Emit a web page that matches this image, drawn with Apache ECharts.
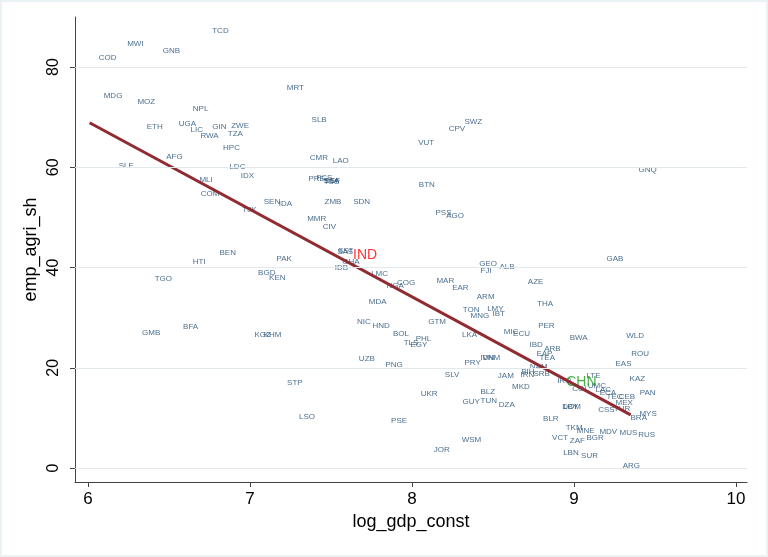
<!DOCTYPE html>
<html>
<head>
<meta charset="utf-8">
<script src="https://cdn.jsdelivr.net/npm/echarts@6/dist/echarts.min.js"></script>
<style>
  html, body { margin: 0; padding: 0; background: #fff; }
  #chart { width: 768px; height: 557px; box-sizing: border-box; border: 2px solid #eaf2f3; }
</style>
</head>
<body>
<div id="chart"></div>
<script>
// country codes with log gdp and agricultural employment share
var codes = ['TCD','MWI','GNB','COD','MDG','MOZ','NPL','MRT','ETH','UGA','LIC','GIN','ZWE','RWA','TZA','HPC','SLB','AFG','CMR','SLE',
  'LDC','IDX','LAO','SWZ','CPV','VUT','PRE','FCS','SSA','SSF','TSS','BTN','SEN','IDA','ZMB','SDN','PSS','AGO','MMR','CIV',
  'MLI','COM','TJK','BEN','PAK','HTI','BGD','KEN','TGO','SAS','SST','GHA','IDB','IND','LMC','NGA','COG','MAR','EAR','GEO',
  'FJI','ALB','ARM','AZE','MDA','TON','LMY','MNG','IBT','NIC','HND','GTM','BOL','PHL','TLS','EGY','LKA','MIC','ECU','IBD',
  'UZB','PNG','PRY','IDN','VNM','SLV','JAM','BIH','IRN','SRB','NAM','EAP','TEA','ARB','PER','THA','BWA','WLD','ROU','EAS',
  'KAZ','PAN','MYS','BRA','RUS','MUS','MDV','MNE','TKM','BGR','VCT','ZAF','LBN','SUR','ARG','BLR','DZA','MKD','DOM','LBY',
  'CSS','TUR','MEX','ECA','TEC','LAC','CEB','UMC','LTE','IRQ','COL','CHN','GUY','TUN','BLZ','UKR','PSE','WSM','JOR','STP',
  'LSO','GMB','BFA','KGZ','KHM','GNQ','GAB'];
var logGdp = [6.764,6.239,6.459,6.064,6.094,6.302,6.644,7.224,6.36,6.557,6.63,6.764,6.881,6.691,6.86,6.831,7.377,6.48,7.366,6.187,
  6.87,6.94,7.508,8.321,8.224,8.035,7.358,7.407,7.45,7.457,7.452,8.039,7.082,7.175,7.457,7.634,8.142,8.208,7.35,7.446,
  6.685,6.693,6.95,6.809,7.16,6.644,7.047,7.115,6.409,7.535,7.54,7.566,7.52,7.633,7.745,7.84,7.905,8.148,8.245,8.412,
  8.42,8.537,8.397,8.712,7.73,8.311,8.461,8.358,8.494,7.658,7.753,8.097,7.88,8.02,7.946,7.988,8.306,8.564,8.621,8.722,
  7.669,7.833,8.321,8.42,8.432,8.2,8.527,8.671,8.667,8.747,8.724,8.765,8.784,8.813,8.776,8.769,8.971,9.319,9.35,9.253,
  9.34,9.403,9.401,9.346,9.393,9.278,9.154,9.014,8.946,9.074,8.862,8.971,8.93,9.041,9.298,8.806,8.533,8.615,8.924,8.93,
  9.146,9.243,9.253,9.156,9.198,9.13,9.273,9.082,9.074,8.893,8.986,8.949,8.309,8.42,8.42,8.051,7.868,8.304,8.132,7.226,
  7.3,6.331,6.584,7.025,7.082,9.395,9.198];
var empAgri = [87.2,84.6,83.3,81.8,74.3,73.1,71.6,75.8,68.1,68.7,67.5,68.1,68.2,66.2,66.6,63.9,69.5,62.1,61.9,60.4,
  60.1,58.3,61.3,69.0,67.6,64.8,57.7,58.0,57.3,57.3,57.2,56.5,53.2,52.7,53.2,53.2,50.9,50.4,49.7,48.2,
  57.5,54.7,51.5,43.0,41.8,41.2,38.9,37.9,37.7,43.2,43.4,41.2,39.9,42.5,38.7,36.3,37.0,37.4,36.0,40.7,
  39.4,40.2,34.1,37.2,33.1,31.5,31.7,30.3,30.7,29.1,28.3,29.1,26.8,25.8,24.9,24.6,26.5,27.1,26.7,24.6,
  21.8,20.5,21.0,21.9,21.9,18.6,18.4,19.2,18.6,18.8,20.2,22.7,21.9,23.8,28.4,32.7,25.9,26.3,22.8,20.7,
  17.8,15.0,10.8,10.1,6.6,7.1,7.2,7.4,8.1,6.1,6.1,5.4,3.0,2.5,0.5,9.8,12.6,16.1,12.2,12.2,
  11.6,11.8,13.0,15.0,14.2,15.7,14.2,16.4,18.4,17.4,15.8,17.2,13.2,13.4,15.2,14.8,9.4,5.6,3.6,16.9,
  10.2,27.0,28.1,26.5,26.5,59.5,41.7];

// linear fit end points
var fitX = [6.01, 9.35];
var fitY = [68.9, 10.6];

var xTicks = [6, 7, 8, 9, 10];
var yTicks = [0, 20, 40, 60, 80];

var highlight = { IND: '#ff0000', CHN: '#1a9a1a' };

var pts = [];
for (var i = 0; i < codes.length; i++) {
    var item = { value: [logGdp[i], empAgri[i]], name: codes[i] };
    if (highlight[codes[i]]) {
        item.label = { color: highlight[codes[i]], fontSize: 14 };
    }
    pts.push(item);
}

var myChart = echarts.init(document.getElementById('chart'));
var option = {
    animation: false,
    textStyle: { fontFamily: 'Liberation Sans' },
    grid: { left: 73, right: 19, top: 15, bottom: 73 },
    xAxis: {
        type: 'value',
        min: 5.92, max: 10.068,
        name: 'log_gdp_const',
        nameLocation: 'middle',
        nameGap: 31,
        nameMoveOverlap: false,
        nameTextStyle: { fontSize: 18, color: '#000' },
        axisLine: { onZero: false, lineStyle: { color: '#444', width: 1 } },
        axisTick: { customValues: xTicks, length: 5, lineStyle: { color: '#444' } },
        axisLabel: { customValues: xTicks, fontSize: 17, color: '#000', margin: 9 },
        splitLine: { show: false }
    },
    yAxis: {
        type: 'value',
        min: -2.8, max: 90,
        name: 'emp_agri_sh',
        nameLocation: 'middle',
        nameGap: 35,
        nameMoveOverlap: false,
        nameTextStyle: { fontSize: 18, color: '#000' },
        axisLine: { show: true, onZero: false, lineStyle: { color: '#444', width: 1 } },
        axisTick: { show: true, customValues: yTicks, length: 5, lineStyle: { color: '#444' } },
        axisLabel: { customValues: yTicks, fontSize: 16, color: '#000', rotate: 90, margin: 13 },
        splitLine: { show: false }
    },
    series: [
        {
            type: 'line',
            data: [],
            silent: true,
            z: 1,
            markLine: {
                silent: true,
                symbol: 'none',
                label: { show: false },
                lineStyle: { color: '#e2e9ec', type: 'solid', width: 1 },
                data: yTicks.map(function (v) { return { yAxis: v }; })
            }
        },
        {
            type: 'scatter',
            data: pts,
            symbolSize: 1,
            itemStyle: { color: 'transparent' },
            z: 3,
            label: {
                show: true,
                position: 'right',
                distance: 0,
                formatter: '{b}',
                fontSize: 8,
                color: '#1a476f'
            }
        },
        {
            type: 'line',
            data: [[fitX[0], fitY[0]], [fitX[1], fitY[1]]],
            symbol: 'none',
            z: 4,
            lineStyle: { color: '#8f2b31', width: 3 }
        }
    ]
};
myChart.setOption(option);
</script>
</body>
</html>
